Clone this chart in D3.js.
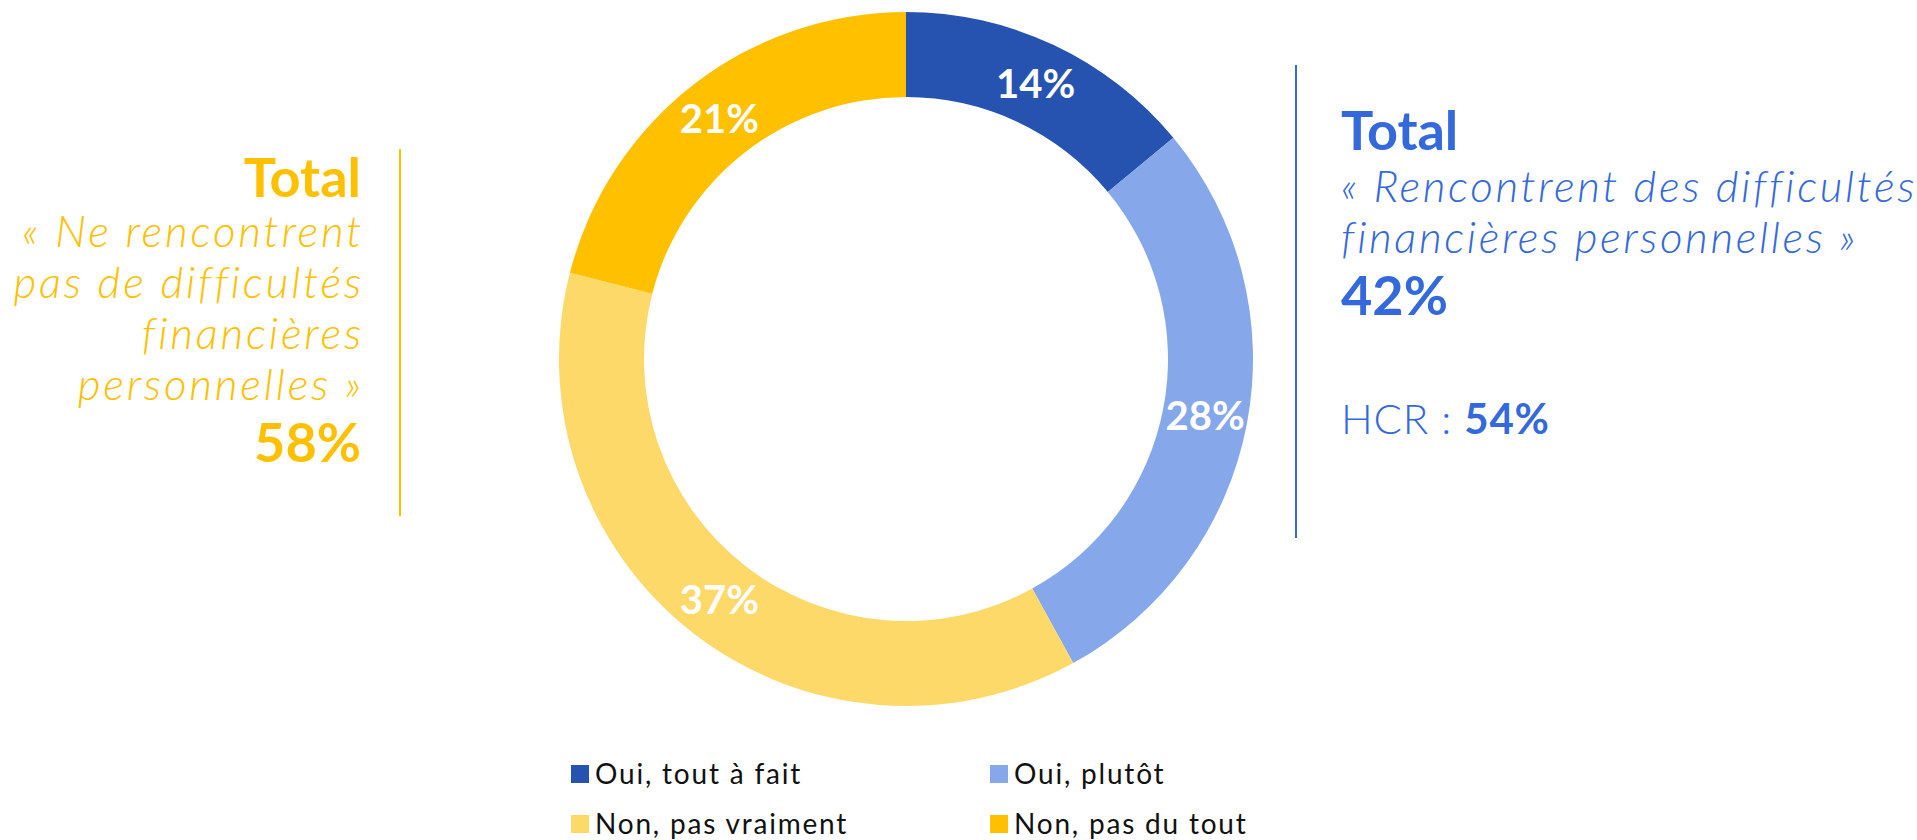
<!DOCTYPE html>
<html>
<head>
<meta charset="utf-8">
<script src="https://cdn.jsdelivr.net/npm/d3@7"></script>
<style>
  html, body { margin: 0; padding: 0; background: #fff; }
  svg { display: block; font-family: Lato, "Open Sans", sans-serif; }
</style>
</head>
<body>
<div id="chart"></div>
<script>
// data
const categories = ["Oui, tout à fait", "Oui, plutôt", "Non, pas vraiment", "Non, pas du tout"];
const values = [14, 28, 37, 21];
const sliceColors = ["#2653B0", "#86A8EA", "#FDD96A", "#FFC000"];

const leftTitle = "Total";
const leftLines = ["« Ne rencontrent", "pas de difficultés", "financières", "personnelles »"];
const leftTotal = "58%";

const rightTitle = "Total";
const rightLines = ["« Rencontrent des difficultés", "financières personnelles »"];
const rightTotal = "42%";
const hcrLabel = "HCR : ";
const hcrValue = "54%";

const gold = "#FFC000";
const blue = "#3469DB";

var width = 1917, height = 840;

var svg = d3.select("#chart")
  .append("svg")
    .attr("width", width)
    .attr("height", height);

// donut
var cx = 906, cy = 359;
var rOuter = 347, rInner = 262;

var color = d3.scaleOrdinal()
    .domain(categories)
    .range(sliceColors);

var pie = d3.pie().sort(null).value(function(d) { return d.v; });
var arc = d3.arc().innerRadius(rInner).outerRadius(rOuter);

var slices = categories.map(function(c, i) { return {cat: c, v: values[i]}; });

var g = svg.append("g")
    .attr("transform", "translate(" + cx + "," + cy + ")");

g.selectAll("path")
  .data(pie(slices))
  .enter().append("path")
    .attr("d", arc)
    .attr("fill", function(d) { return color(d.data.cat); });

g.selectAll("text.lbl")
  .data(pie(slices))
  .enter().append("text")
    .attr("class", "lbl")
    .attr("transform", function(d) { return "translate(" + arc.centroid(d) + ")"; })
    .attr("dy", "0.36em")
    .attr("text-anchor", "middle")
    .attr("fill", "#fff")
    .attr("font-weight", 700)
    .attr("font-size", 40)
    .text(function(d) { return d.data.v + "%"; });

// left block (Lato is narrower than the original font, so spread the italics)
var left = svg.append("g").attr("fill", gold).attr("text-anchor", "end");
var lx = 361;
left.append("text")
    .attr("x", lx).attr("y", 197)
    .attr("font-size", 54).attr("font-weight", 700)
    .text(leftTitle);
left.selectAll("text.line")
  .data(leftLines)
  .enter().append("text")
    .attr("class", "line")
    .attr("x", lx + 3)
    .attr("y", function(d, i) { return 247 + i * 51; })
    .attr("font-size", 44).attr("font-style", "italic").attr("font-weight", 300)
    .attr("letter-spacing", 2.8)
    .text(function(d) { return d; });
left.append("text")
    .attr("x", lx).attr("y", 462)
    .attr("font-size", 54).attr("font-weight", 700)
    .text(leftTotal);

svg.append("line")
    .attr("x1", 400).attr("x2", 400)
    .attr("y1", 149).attr("y2", 516)
    .attr("stroke", gold).attr("stroke-width", 2);

// right block
var right = svg.append("g").attr("fill", blue);
var rx = 1341;
right.append("text")
    .attr("x", rx).attr("y", 150)
    .attr("font-size", 54).attr("font-weight", 700)
    .text(rightTitle);
right.selectAll("text.line")
  .data(rightLines)
  .enter().append("text")
    .attr("class", "line")
    .attr("x", rx)
    .attr("y", function(d, i) { return 202 + i * 51; })
    .attr("font-size", 44).attr("font-style", "italic").attr("font-weight", 300)
    .attr("letter-spacing", 2.6)
    .text(function(d) { return d; });
right.append("text")
    .attr("x", rx).attr("y", 315)
    .attr("font-size", 54).attr("font-weight", 700)
    .text(rightTotal);
var hcr = right.append("text")
    .attr("x", rx).attr("y", 434)
    .attr("font-size", 42).attr("font-weight", 300)
    .attr("letter-spacing", 0.8);
hcr.append("tspan").text(hcrLabel);
hcr.append("tspan").attr("font-weight", 700).text(hcrValue);

svg.append("line")
    .attr("x1", 1296).attr("x2", 1296)
    .attr("y1", 65).attr("y2", 538)
    .attr("stroke", blue).attr("stroke-width", 2);

// legend, 2 x 2
var legX = d3.scaleOrdinal().domain([0, 1]).range([571, 990]);
var legY = d3.scaleOrdinal().domain([0, 1]).range([774, 824]);

var leg = svg.selectAll("g.leg")
  .data(categories)
  .enter().append("g")
    .attr("class", "leg")
    .attr("transform", function(d, i) { return "translate(" + legX(i % 2) + "," + legY(Math.floor(i / 2)) + ")"; });

leg.append("rect")
    .attr("x", 0).attr("y", -9)
    .attr("width", 18).attr("height", 18)
    .attr("fill", function(d) { return color(d); });

leg.append("text")
    .attr("x", 24).attr("dy", "0.36em")
    .attr("font-size", 28)
    .attr("letter-spacing", 1.8)
    .attr("fill", "#111")
    .text(function(d) { return d; });
</script>
</body>
</html>
